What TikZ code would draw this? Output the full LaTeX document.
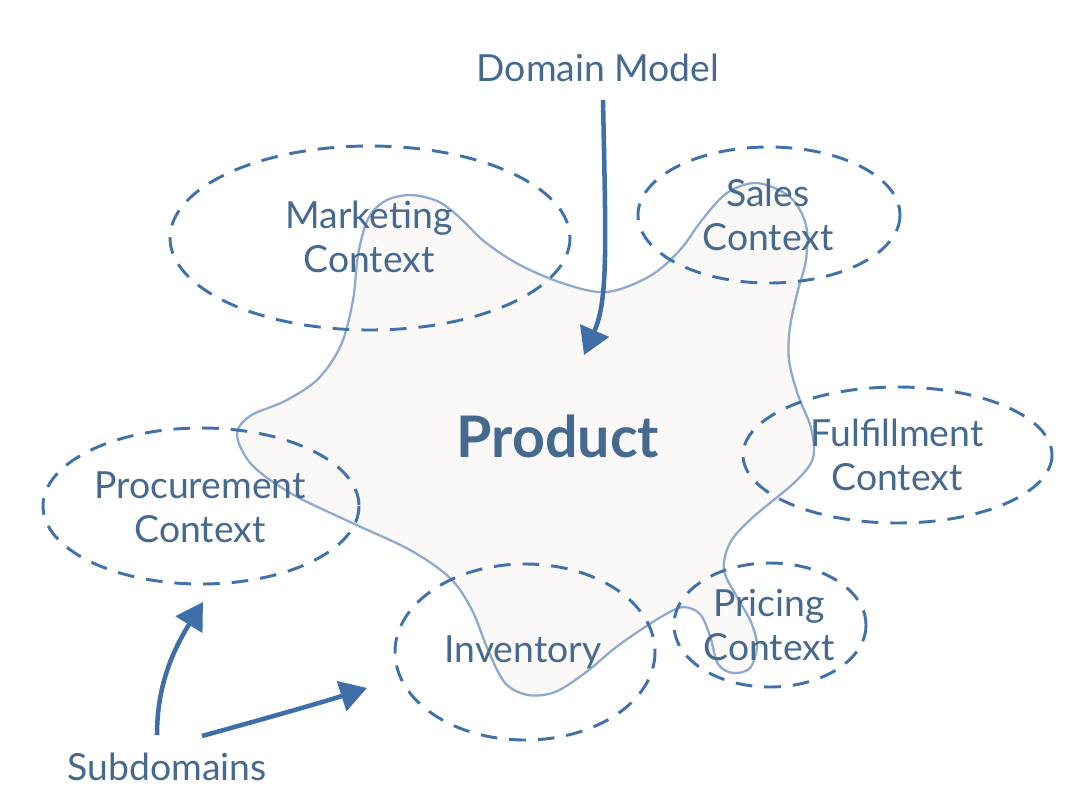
\documentclass[tikz,border=0pt]{standalone}
\usepackage{fontspec}
\setmainfont{Lato}
\usetikzlibrary{arrows.meta}
\definecolor{txt}{HTML}{45698F}
\definecolor{dashc}{HTML}{4171A9}
\definecolor{arrc}{HTML}{3F6EA8}
\definecolor{blobline}{HTML}{8EA9CC}
\definecolor{blobfill}{HTML}{FAF9F8}
\tikzset{
  ctx/.style={draw=dashc, line width=2.2pt, dash pattern=on 12.5pt off 9pt},
  lbl/.style={text=txt, align=center, font=\fontsize{28}{33}\selectfont, inner sep=0pt},
  arr/.style={draw=arrc, line width=3.4pt, -{Triangle[length=20pt,width=23pt]}},
}
\begin{document}
\begin{tikzpicture}[x=0.75pt,y=-0.75pt]
\useasboundingbox (0,0) rectangle (1082,808);
\fill[white] (0,0) rectangle (1082,808);
% blob
\draw[blobline, line width=1.7pt, fill=blobfill] plot[smooth cycle, tension=0.55] coordinates {
(410,195) (437,201) (458,216) (485,242) (520,265) (565,284) (607,292) (650,276)
(680,250) (702,220) (727,193) (757,183) (790,197) (806,225) (806,260) (798,290)
(790,327) (789,360) (798,395) (811,428) (813,458) (795,482) (752,518) (730,543)
(724,570) (737,597) (751,622) (757,646) (750,668) (733,673) (718,664) (710,636)
(700,614) (684,607) (668,613) (645,627) (615,648) (585,673) (555,692) (528,695)
(505,683) (488,650) (472,610) (450,578) (410,550) (350,522) (292,494) (252,465)
(237,435) (250,416) (285,401) (318,379) (341,345) (353,300) (358,255) (368,219)
(385,201)};
% contexts
\draw[ctx] (370,238) ellipse [x radius=200, y radius=92];
\draw[ctx] (769,215) ellipse [x radius=131, y radius=68];
\draw[ctx] (897.5,455) ellipse [x radius=154.5, y radius=68];
\draw[ctx] (201,506) ellipse [x radius=158, y radius=78];
\draw[ctx] (525,652) ellipse [x radius=130, y radius=88];
\draw[ctx] (770,625) ellipse [x radius=96, y radius=62];
% labels
\node[lbl] (dm) at (598,68) {Domain Model};
\node[lbl] (mk) at (369,237) {Marketing\\Context};
\node[lbl] (sa) at (768,215) {Sales\\Context};
\node[lbl] (fu) at (897,455) {Fulfillment\\Context};
\node[lbl] (pc) at (200,507) {Procurement\\Context};
\node[lbl] (inv) at (523,652) {Inventory};
\node[lbl] (pr) at (769,625) {Pricing\\Context};
\node[lbl] (sd) at (167,767) {Subdomains};
\node[text=txt, inner sep=0pt, font=\fontsize{43}{48}\selectfont\bfseries] (prod) at (558,436) {Product};
% arrows
\coordinate (dmstart) at (603,100);
\coordinate (dmend) at (584,355);
\coordinate (sd1) at (157,735);
\coordinate (sd1end) at (203,602);
\coordinate (sd2) at (202,736);
\coordinate (sd2end) at (367,688);
\draw[arr] (dmstart) .. controls (606,250) and (608,300) .. (dmend);
\draw[arr] (sd1) .. controls (157,690) and (170,655) .. (sd1end);
\draw[arr] (sd2) .. controls (260,720) and (320,703) .. (sd2end);
\end{tikzpicture}
\end{document}
